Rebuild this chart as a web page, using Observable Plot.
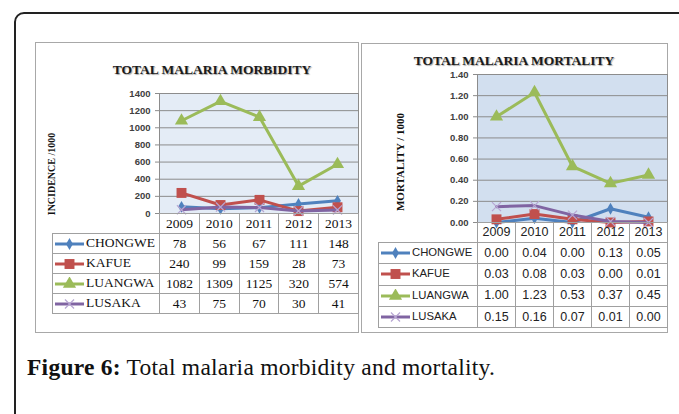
<!DOCTYPE html>
<html><head><meta charset="utf-8">
<script src="https://cdn.jsdelivr.net/npm/d3@7"></script>
<script src="https://cdn.jsdelivr.net/npm/@observablehq/plot@0.6"></script>
<style>
body{margin:0;background:#fff;}
#root{position:relative;width:679px;height:414px;overflow:hidden;background:#fff;}
.box{position:absolute;border:1px solid #a8a8a8;box-sizing:border-box;background:#fff;}
.title{position:absolute;transform:translate(-50%,-50%);font-family:"Liberation Serif",serif;font-weight:bold;color:#1a1a1a;white-space:nowrap;line-height:1;text-shadow:1px 1px 1px rgba(0,0,0,0.35);}
.ylab{position:absolute;transform:translate(-50%,-50%) rotate(-90deg);font-family:"Liberation Serif",serif;font-weight:bold;color:#111;white-space:nowrap;line-height:1;}
table.dt{position:absolute;border-collapse:collapse;table-layout:fixed;}
table.dt td{border:1px solid #a0a0a0;padding:0;text-align:center;vertical-align:middle;line-height:1;white-space:nowrap;overflow:visible;}
table.dt td.blank{border-top:hidden;border-left:hidden;}
table.dt td.lab{text-align:left;}
table.dt td.lab svg{vertical-align:middle;margin-right:1px;}
#caption{position:absolute;left:27px;top:356px;font-family:"Liberation Serif",serif;font-size:23.5px;letter-spacing:0.25px;color:#111;white-space:nowrap;line-height:1;}
</style></head>
<body>
<svg width="0" height="0" style="position:absolute">
<defs>
<pattern id="dotsL" width="2" height="2" patternUnits="userSpaceOnUse"><rect width="2" height="2" fill="#f5f8fc"/><rect width="1" height="1" fill="#b0c6e2"/></pattern>
<pattern id="dotsR" width="2" height="2" patternUnits="userSpaceOnUse"><rect width="2" height="2" fill="#f0f4fa"/><rect width="1" height="1" fill="#b4c9e4"/><rect x="1" y="1" width="1" height="1" fill="#b4c9e4"/></pattern>
</defs></svg>
<div id="root">
  <div style="position:absolute;left:14px;top:12px;width:720px;height:450px;border:2px solid #222;border-radius:10px;box-sizing:border-box;"></div>
  <div class="box" style="left:35px;top:42px;width:324px;height:291px;"></div>
  <div class="box" style="left:361px;top:43px;width:307px;height:290px;"></div>
  <div class="title" style="left:212px;top:70px;font-size:13.5px;">TOTAL MALARIA MORBIDITY</div>
  <div class="title" style="left:514px;top:61px;font-size:13.5px;">TOTAL MALARIA MORTALITY</div>
  <div class="ylab" style="left:52px;top:174px;font-size:10px;">INCIDENCE /1000</div>
  <div class="ylab" style="left:400px;top:162px;font-size:11px;">MORTALITY / 1000</div>
  <div id="caption"><b>Figure 6:</b> Total malaria morbidity and mortality.</div>
</div>
<script>
const years = ["2009","2010","2011","2012","2013"];
const seriesNames = ["CHONGWE","KAFUE","LUANGWA","LUSAKA"];
const seriesColors = ["#4f81bd","#c0504d","#9bbb59","#8064a2"];
const morbChongwe = [78,56,67,111,148];
const morbKafue = [240,99,159,28,73];
const morbLuangwa = [1082,1309,1125,320,574];
const morbLusaka = [43,75,70,30,41];
const mortChongwe = [0.00,0.04,0.00,0.13,0.05];
const mortKafue = [0.03,0.08,0.03,0.00,0.01];
const mortLuangwa = [1.00,1.23,0.53,0.37,0.45];
const mortLusaka = [0.15,0.16,0.07,0.01,0.00];
const morbTicks = [0,200,400,600,800,1000,1200,1400];
const mortTicks = [0,0.2,0.4,0.6,0.8,1.0,1.2,1.4];

const markerSpecs = [
  {symbol:"diamond", r:3.6, fill:"#4f81bd", stroke:"none", sw:0},
  {symbol:"square", r:5.6, fill:"#c0504d", stroke:"none", sw:0},
  {symbol:"triangle", r:4.9, fill:"#9bbb59", stroke:"none", sw:0},
  {symbol:"times", r:4.2, fill:"none", stroke:"#b7a6d2", sw:1.2}
];
const symMap = {diamond:d3.symbolDiamond, square:d3.symbolSquare, triangle:d3.symbolTriangle, times:d3.symbolTimes};

const root = document.getElementById("root");

function chart(o){
  const rows = [];
  seriesNames.forEach((s,i)=>years.forEach((y,j)=>rows.push({series:s, year:y, value:o.vals[i][j]})));
  const marks = [
    Plot.frame({fill:`url(#${o.pattern})`, stroke:"none"}),
    Plot.gridY(o.ticks, {stroke:"#8c8c8c", strokeOpacity:1}),
    Plot.frame({stroke:"#8c8c8c"}),
    Plot.axisY(o.ticks, {label:null, tickSize:4, tickPadding:o.tp, tickFormat:o.fmt, fontWeight:"bold", fill:"#404040", stroke:"#8c8c8c"})
  ];
  seriesNames.forEach((s,i)=>{
    const d = rows.filter(r=>r.series===s);
    const m = markerSpecs[i];
    marks.push(Plot.line(d, {x:"year", y:"value", stroke:seriesColors[i], strokeWidth:3, strokeLinejoin:"round"}));
    marks.push(Plot.dot(d, {x:"year", y:"value", symbol:m.symbol, r:m.r, fill:m.fill, stroke:m.stroke, strokeWidth:m.sw}));
  });
  const svg = Plot.plot({
    width:o.width, height:o.height,
    marginLeft:o.ml, marginRight:o.mr, marginTop:o.mt, marginBottom:o.mb,
    x:{type:"point", domain:years, padding:0.5, axis:null},
    y:{domain:o.domain, axis:null},
    style:{fontFamily:"Liberation Sans, Arial, sans-serif", fontSize:"9.5px", color:"#404040", background:"transparent", overflow:"visible"},
    marks
  });
  svg.style.position = "absolute";
  svg.style.left = o.left + "px";
  svg.style.top = o.top + "px";
  root.appendChild(svg);
}

function keySvg(i){
  const m = markerSpecs[i];
  const ns = "http://www.w3.org/2000/svg";
  const svg = document.createElementNS(ns,"svg");
  svg.setAttribute("width","32"); svg.setAttribute("height","14");
  const line = document.createElementNS(ns,"line");
  line.setAttribute("x1","2"); line.setAttribute("x2","31"); line.setAttribute("y1","7"); line.setAttribute("y2","7");
  line.setAttribute("stroke", seriesColors[i]); line.setAttribute("stroke-width","3");
  svg.appendChild(line);
  const p = document.createElementNS(ns,"path");
  p.setAttribute("d", d3.symbol(symMap[m.symbol], m.r*m.r*Math.PI)());
  p.setAttribute("transform","translate(16.5,7)");
  p.setAttribute("fill", m.fill); p.setAttribute("stroke", m.stroke); p.setAttribute("stroke-width", m.sw);
  svg.appendChild(p);
  return svg;
}

function table(o){
  const t = document.createElement("table");
  t.className = "dt";
  t.style.left = o.left+"px"; t.style.top = o.top+"px";
  t.style.width = (o.labelW + 5*o.colW)+"px";
  t.style.fontFamily = o.font; t.style.fontSize = o.fs; t.style.color = o.color;
  const cg = document.createElement("colgroup");
  [o.labelW, ...years.map(()=>o.colW)].forEach(w=>{const c=document.createElement("col"); c.style.width=w+"px"; cg.appendChild(c);});
  t.appendChild(cg);
  const hr = document.createElement("tr"); hr.style.height = o.headH+"px";
  const b = document.createElement("td"); b.className="blank"; hr.appendChild(b);
  years.forEach(y=>{const td=document.createElement("td"); td.textContent=y; hr.appendChild(td);});
  t.appendChild(hr);
  seriesNames.forEach((s,i)=>{
    const tr = document.createElement("tr"); tr.style.height = o.rowH+"px";
    const lab = document.createElement("td"); lab.className="lab";
    lab.style.fontSize = o.labFs;
    lab.appendChild(keySvg(i)); lab.appendChild(document.createTextNode(s));
    tr.appendChild(lab);
    o.vals[i].forEach(v=>{const td=document.createElement("td"); td.textContent=o.fmt(v); tr.appendChild(td);});
    t.appendChild(tr);
  });
  root.appendChild(t);
}

const morbVals = [morbChongwe, morbKafue, morbLuangwa, morbLusaka];
const mortVals = [mortChongwe, mortKafue, mortLuangwa, mortLusaka];

chart({vals:morbVals, ticks:morbTicks, domain:[0,1400], fmt:d=>String(d), pattern:"dotsL",
  left:100, top:85, width:258, height:135, ml:59, mr:0, mt:8, mb:7, tp:5});
chart({vals:mortVals, ticks:mortTicks, domain:[0,1.4], fmt:d=>d.toFixed(2), pattern:"dotsR",
  left:420, top:66, width:248, height:160, ml:57, mr:1, mt:8, mb:4, tp:5});

table({vals:morbVals, fmt:v=>String(v), left:52, top:213, labelW:107, colW:39.8, headH:20, rowH:20,
  font:"Liberation Serif, serif", fs:"13.5px", labFs:"13.5px", color:"#111"});
table({vals:mortVals, fmt:v=>v.toFixed(2), left:378, top:222, labelW:99, colW:38, headH:20, rowH:21.3,
  font:"Liberation Sans, Arial, sans-serif", fs:"12.5px", labFs:"11.3px", color:"#222"});
</script>
</body></html>
